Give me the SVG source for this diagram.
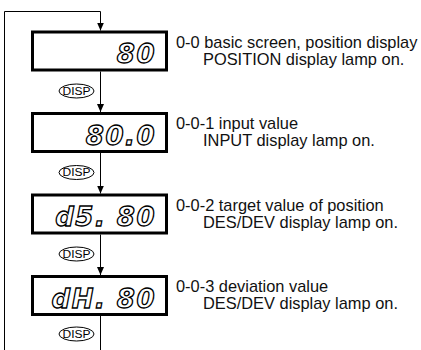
<svg xmlns="http://www.w3.org/2000/svg" width="421" height="350" viewBox="0 0 421 350">
<style>
.box{fill:#fff;stroke:#000;stroke-width:3}
.seg{font-family:"DejaVu Sans",sans-serif;font-weight:bold;font-style:oblique;font-size:26px;letter-spacing:1.5px;fill:#fff;stroke:#000;stroke-width:1.3;text-anchor:end}
.lbl{font-family:"Liberation Sans",Arial,sans-serif;font-size:16.4px;fill:#111}
.disp ellipse{fill:#fff;stroke:#000;stroke-width:1}
.disp text{font-family:"Liberation Sans",Arial,sans-serif;font-size:10px;fill:#000;text-anchor:middle}
.ln{fill:none;stroke:#000;stroke-width:1}
</style>
<defs>
<marker id="ah" markerUnits="userSpaceOnUse" markerWidth="8" markerHeight="8" refX="8" refY="4" orient="auto">
<path d="M0,0.5 L8,4 L0,7.5 z" fill="#000"/>
</marker>
</defs>
<g id="connectors">
<path class="ln" d="M4.5,350 V11.5 H100.5 V30.5" marker-end="url(#ah)"/>
<path class="ln" d="M100.5,71.5 V112" marker-end="url(#ah)"/>
<path class="ln" d="M100.5,153 V193.5" marker-end="url(#ah)"/>
<path class="ln" d="M100.5,234.5 V275" marker-end="url(#ah)"/>
<path class="ln" d="M100.5,316 V350"/>
<g class="disp"><ellipse cx="76.5" cy="91" rx="17.5" ry="7"/><text x="76.5" y="94.6" textLength="28" lengthAdjust="spacingAndGlyphs">DISP</text></g>
<g class="disp"><ellipse cx="76.5" cy="172.5" rx="17.5" ry="7"/><text x="76.5" y="176.1" textLength="28" lengthAdjust="spacingAndGlyphs">DISP</text></g>
<g class="disp"><ellipse cx="76.5" cy="254" rx="17.5" ry="7"/><text x="76.5" y="257.6" textLength="28" lengthAdjust="spacingAndGlyphs">DISP</text></g>
<g class="disp"><ellipse cx="76.5" cy="334" rx="17.5" ry="7"/><text x="76.5" y="337.6" textLength="28" lengthAdjust="spacingAndGlyphs">DISP</text></g>
</g>
<g id="node-0-0">
<rect class="box" x="32.5" y="32" width="134" height="38"/>
<text class="seg" x="156" y="63">80</text>
<text class="lbl" x="176" y="47.5">0-0 basic screen, position display</text>
<text class="lbl" x="203" y="64.5">POSITION display lamp on.</text>
</g>
<g id="node-0-0-1">
<rect class="box" x="32.5" y="113.5" width="134" height="38"/>
<text class="seg" x="156" y="144.5">80.0</text>
<text class="lbl" x="176" y="129">0-0-1 input value</text>
<text class="lbl" x="203" y="146">INPUT display lamp on.</text>
</g>
<g id="node-0-0-2">
<rect class="box" x="32.5" y="195" width="134" height="38"/>
<text class="seg" x="156" y="226">d5. 80</text>
<text class="lbl" x="176" y="210.5">0-0-2 target value of position</text>
<text class="lbl" x="203" y="227.5">DES/DEV display lamp on.</text>
</g>
<g id="node-0-0-3">
<rect class="box" x="32.5" y="276.5" width="134" height="38"/>
<text class="seg" x="156" y="307.5">dH. 80</text>
<text class="lbl" x="176" y="292">0-0-3 deviation value</text>
<text class="lbl" x="203" y="309">DES/DEV display lamp on.</text>
</g>
</svg>
